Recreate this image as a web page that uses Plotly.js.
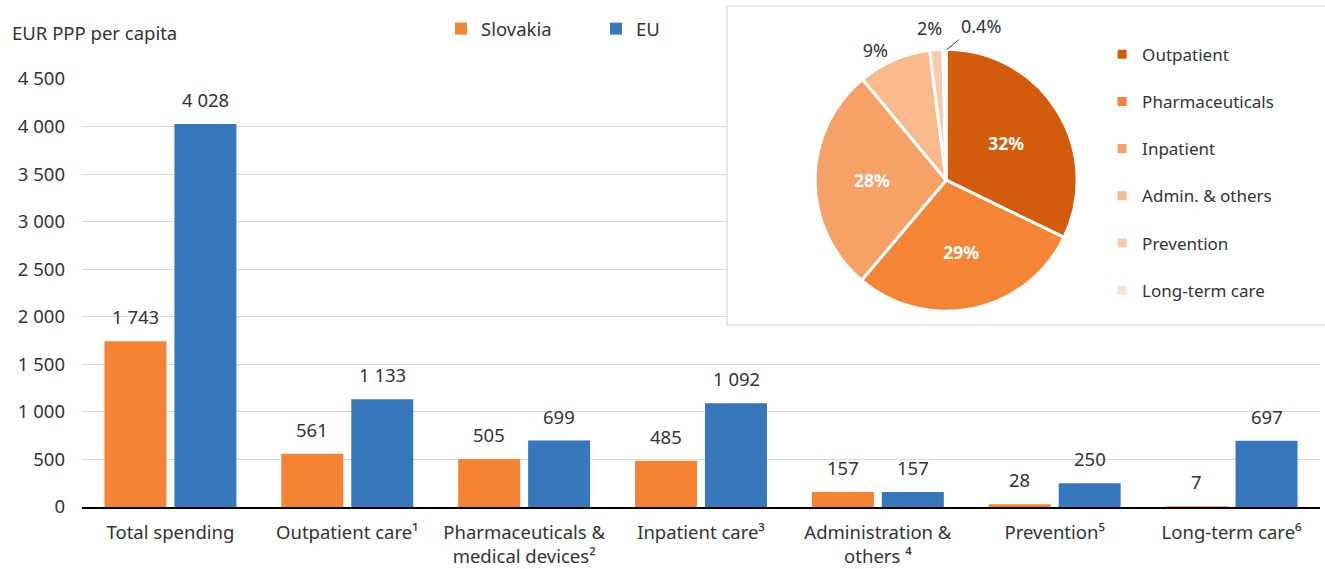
<!DOCTYPE html>
<html><head><meta charset="utf-8">
<script src="https://cdn.plot.ly/plotly-3.0.1.min.js"></script>
<style>html,body{margin:0;padding:0;background:#fff}</style>
</head><body>
<div id="chart" style="width:1325px;height:569px"></div>
<script>
// ---- data ----
const categories = ['Total spending', 'Outpatient care¹', 'Pharmaceuticals &<br>medical devices²', 'Inpatient care³', 'Administration &<br>others ⁴', 'Prevention⁵', 'Long-term care⁶'];
const slovakia = [1743, 561, 505, 485, 157, 28, 7];
const eu = [4028, 1133, 699, 1092, 157, 250, 697];
const pieLabels = ['Outpatient', 'Pharmaceuticals', 'Inpatient', 'Admin. & others', 'Prevention', 'Long-term care'];
const pieValues = [561, 505, 485, 157, 28, 7];
const pieTextFormats = ['%{percent:.0%}', '%{percent:.0%}', '%{percent:.0%}', '%{percent:.0%}', '', ''];
const pieTextPositions = ['inside', 'inside', 'inside', 'outside', 'none', 'none'];
const yTicks = [0, 500, 1000, 1500, 2000, 2500, 3000, 3500, 4000, 4500];
const seriesNames = ['Slovakia', 'EU'];
const yTitle = 'EUR PPP per capita';

// ---- styles ----
const FONT = 'Noto Sans, Open Sans, sans-serif';
const TXT = '#333333';
const FS = 18.5;
const barColors = ['#F48434', '#3777BC'];
const pieColors = ['#D35B0C', '#F48534', '#F6A165', '#F8B98B', '#FACBAA', '#FCE2CF'];

const fmt = v => String(v).replace(/\B(?=(\d{3})+(?!\d))/g, ' ');
const total = pieValues.reduce((a, b) => a + b, 0);
const pct = (i, d) => (100 * pieValues[i] / total).toFixed(d) + '%';

const traces = [
  {type: 'bar', name: seriesNames[0], x: categories, y: slovakia, marker: {color: barColors[0]}, legend: 'legend', hoverinfo: 'y'},
  {type: 'bar', name: seriesNames[1], x: categories, y: eu, marker: {color: barColors[1]}, legend: 'legend', hoverinfo: 'y'},
  {type: 'pie', labels: pieLabels.map(l => l + '<br> '), values: pieValues, sort: false, direction: 'clockwise',
   marker: {colors: pieColors, line: {color: '#ffffff', width: 3}},
   texttemplate: pieTextFormats, textposition: pieTextPositions,
   insidetextorientation: 'horizontal',
   insidetextfont: {color: '#ffffff', size: 17.5, family: FONT, weight: 'bold'},
   outsidetextfont: {color: TXT, size: 18, family: FONT},
   domain: {x: [0.592, 0.804], y: [0.390, 0.912]},
   legend: 'legend2', hoverinfo: 'label+percent'}
];

const annotations = [];
[slovakia, eu].forEach((arr, s) => {
  arr.forEach((v, i) => {
    annotations.push({x: i, y: v, xref: 'x', yref: 'y', text: fmt(v), showarrow: false,
      xanchor: 'center', yanchor: 'bottom', yshift: 10, xshift: s === 0 ? -35 : 35,
      font: {size: FS, color: TXT, family: FONT}});
  });
});
annotations.push({xref: 'paper', yref: 'paper', x: -0.058, y: 0.946, xanchor: 'left', yanchor: 'middle',
  text: yTitle, showarrow: false, font: {size: FS, color: TXT, family: FONT}});
// small-slice labels
annotations.push({xref: 'paper', yref: 'paper', x: 0.6842, y: 0.954, text: pct(4, 0), showarrow: false,
  xanchor: 'center', yanchor: 'middle', font: {size: 18, color: TXT, family: FONT}});
annotations.push({xref: 'paper', yref: 'paper', x: 0.6985, y: 0.911, text: pct(5, 1), showarrow: true,
  arrowhead: 0, arrowwidth: 1, arrowcolor: '#333333', ax: 12, ay: -10, standoff: 0,
  xanchor: 'left', yanchor: 'bottom', font: {size: 18, color: TXT, family: FONT}});

const layout = {
  width: 1325, height: 569,
  margin: {l: 82, r: 5, t: 5, b: 62},
  paper_bgcolor: '#ffffff', plot_bgcolor: '#ffffff',
  font: {family: FONT, color: TXT, size: FS},
  separators: '. ',
  barmode: 'group', bargap: 0.209, bargroupgap: 0.114,
  xaxis: {type: 'category', range: [-0.5, 6.5], autorange: false, showline: true, linecolor: '#000000', linewidth: 1.5, ticks: '',
    tickfont: {size: FS, color: TXT}, showgrid: false, ticklabelstandoff: 8, fixedrange: true},
  yaxis: {domain: [0, 0.8526], range: [0, 4500], autorange: false, tickvals: yTicks, tickformat: ',', showgrid: true,
    gridcolor: '#d9d9d9', gridwidth: 1, zeroline: false, showline: false, ticks: '',
    tickfont: {size: FS, color: TXT}, ticklabelstandoff: 16, fixedrange: true},
  legend: {orientation: 'h', x: 0.290, y: 0.952, xanchor: 'left', yanchor: 'middle',
    font: {size: FS, color: TXT}, entrywidth: 110, traceorder: 'normal', bgcolor: 'rgba(0,0,0,0)'},
  legend2: {orientation: 'v', x: 0.824, y: 0.937, xanchor: 'left', yanchor: 'top', valign: 'top',
    font: {size: 17, color: TXT}, bgcolor: 'rgba(0,0,0,0)'},
  shapes: [
    {type: 'rect', xref: 'x', yref: 'y', x0: 3.147, x1: 6.5, y0: 1913, y1: 4500,
     layer: 'between', fillcolor: '#ffffff', line: {width: 0}},
    {type: 'rect', xref: 'paper', yref: 'paper', x0: 0.521, x1: 1.01, y0: 0.3625, y1: 0.998,
     layer: 'above', fillcolor: 'rgba(0,0,0,0)', line: {color: '#d9d9d9', width: 1.2}}
  ],
  annotations: annotations,
  showlegend: true
};

Plotly.newPlot('chart', traces, layout, {displayModeBar: false, staticPlot: true});
</script>
</body></html>
